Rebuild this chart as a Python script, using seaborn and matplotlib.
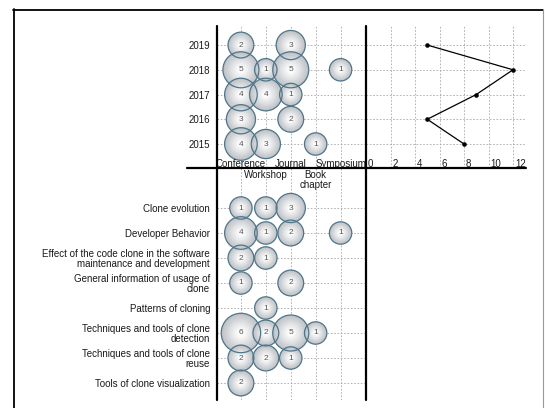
import numpy as np
import pandas as pd
import matplotlib.pyplot as plt
import seaborn as sns
from matplotlib.lines import Line2D
from matplotlib.colors import to_hex, LinearSegmentedColormap

# --- Data ---
TYPES = ['Conference', 'Workshop', 'Journal', 'Book chapter', 'Symposium']

YEARS = [2019, 2018, 2017, 2016, 2015]
year_conference = [2, 5, 4, 3, 4]
year_workshop = [0, 1, 4, 0, 3]
year_journal = [3, 5, 1, 2, 0]
year_book = [0, 0, 0, 0, 1]
year_symposium = [0, 1, 0, 0, 0]
papers_per_year = [5, 12, 9, 5, 8]
COUNT_TICKS = [0, 2, 4, 6, 8, 10, 12]

TOPICS = [
    'Clone evolution',
    'Developer Behavior',
    'Effect of the code clone in the software\nmaintenance and development',
    'General information of usage of\nclone',
    'Patterns of cloning',
    'Techniques and tools of clone\ndetection',
    'Techniques and tools of clone\nreuse',
    'Tools of clone visualization',
]
topic_conference = [1, 4, 2, 1, 0, 6, 2, 2]
topic_workshop = [1, 1, 1, 0, 1, 2, 2, 0]
topic_journal = [3, 2, 0, 2, 0, 5, 1, 0]
topic_book = [0, 0, 0, 0, 0, 1, 0, 0]
topic_symposium = [0, 1, 0, 0, 0, 0, 0, 0]

# --- Layout / style ---
W, H, DPI = 545, 408, 100
EDGE = '#4f7589'
GRID = dict(ls=(0, (2, 2)), color='#a8a8a8', lw=0.6)
TXT = '#1a1a1a'

sns.set_style('white')
plt.rcParams['font.family'] = ['Liberation Sans', 'DejaVu Sans']


def px_box(x0, y0, x1, y1):
    return [x0 / W, 1 - y1 / H, (x1 - x0) / W, (y1 - y0) / H]


def to_long(columns, rows):
    table = pd.DataFrame(dict(zip(TYPES, columns)))
    df = table.assign(row=rows).melt(id_vars='row', var_name='type', value_name='n')
    df = df[df['n'] > 0].copy()
    df['x'] = df['type'].map({t: i for i, t in enumerate(TYPES)})
    df['d'] = (19 + 3.4 * df['n']) * 72 / DPI   # bubble diameter in points
    return df.reset_index(drop=True)


def draw_bubbles(ax, df):
    # fake radial shading: stacked discs, grey rim to white core
    fracs = np.linspace(1.0, 0.2, 9)
    cmap = LinearSegmentedColormap.from_list('bub', ['#bfc3c7', '#fcfcfc'])
    shades = {k: to_hex(cmap(v)) for k, v in enumerate(np.linspace(0, 1, len(fracs)))}
    layers = pd.concat([df.assign(layer=k, s=(df['d'] * f) ** 2) for k, f in enumerate(fracs)])
    layers = layers.rename_axis('bid').reset_index().sort_values(['bid', 'layer'], kind='stable')
    sns.scatterplot(data=layers, x='x', y='row', hue='layer', palette=shades,
                    s=layers['s'].to_numpy(), linewidth=0, legend=False, ax=ax, zorder=2)
    sns.scatterplot(data=df, x='x', y='row', s=(df['d'] ** 2).to_numpy(),
                    facecolor='none', edgecolor=EDGE, linewidth=0.9,
                    legend=False, ax=ax, zorder=3)
    for r in df.itertuples():
        ax.text(r.x, r.row, str(r.n), ha='center', va='center',
                fontsize=6, color='#555555', zorder=4)
    ax.set_xlabel('')
    ax.set_ylabel('')


def clean(ax):
    for s in ax.spines.values():
        s.set_visible(False)
    ax.set_facecolor('none')
    ax.set_axisbelow(True)
    ax.grid(True, **GRID)


fig = plt.figure(figsize=(W / DPI, H / DPI), dpi=DPI)

ax_year = fig.add_axes(px_box(217, 26, 366, 168))
ax_line = fig.add_axes(px_box(366, 26, 526, 168))
ax_topic = fig.add_axes(px_box(217, 168, 366, 400))

# --- Top left: year x publication type ---
year_df = to_long([year_conference, year_workshop, year_journal, year_book, year_symposium], YEARS)
draw_bubbles(ax_year, year_df)
clean(ax_year)
ax_year.set_xlim(-0.96, 5.02)
ax_year.set_ylim(2014.03, 2019.77)
ax_year.set_xticks(range(len(TYPES)), [''] * len(TYPES))
ax_year.set_yticks(YEARS, [str(y) for y in YEARS], fontsize=7, color=TXT)
ax_year.tick_params(axis='x', length=0)
ax_year.tick_params(axis='y', length=3.5, width=0.6, color='#8a8a8a', pad=1.5)
for i, t in enumerate(TYPES):
    if i % 2 == 0:
        ax_year.annotate(t, xy=(i, 0), xycoords=('data', 'axes fraction'),
                         xytext=(0, 1.0), textcoords='offset points',
                         ha='center', va='baseline', fontsize=7, color=TXT,
                         annotation_clip=False)
    else:
        ax_year.annotate(t.replace(' ', '\n'), xy=(i, 0), xycoords=('data', 'axes fraction'),
                         xytext=(0, -1.2), textcoords='offset points',
                         ha='center', va='top', fontsize=7, color=TXT,
                         linespacing=1.0, annotation_clip=False)

# --- Top right: papers per year ---
sns.lineplot(x=papers_per_year, y=YEARS, sort=False, estimator=None, color='black',
             lw=0.9, marker='o', markersize=3.3, markeredgewidth=0, ax=ax_line)
clean(ax_line)
ax_line.set_xlim(0, 13.06)
ax_line.set_ylim(2014.03, 2019.77)
ax_line.set_xticks(COUNT_TICKS, [''] * len(COUNT_TICKS))
ax_line.set_yticks(YEARS, [''] * len(YEARS))
ax_line.tick_params(length=0)
for v in COUNT_TICKS:
    ax_line.annotate(str(v), xy=(v, 0), xycoords=('data', 'axes fraction'),
                     xytext=(1.5, 1.0), textcoords='offset points',
                     ha='left', va='baseline', fontsize=7, color=TXT,
                     annotation_clip=False)

# --- Bottom left: topic x publication type ---
topic_df = to_long([topic_conference, topic_workshop, topic_journal, topic_book, topic_symposium],
                   list(range(len(TOPICS))))
draw_bubbles(ax_topic, topic_df)
clean(ax_topic)
ax_topic.set_xlim(-0.96, 5.02)
ax_topic.set_ylim(7.68, -1.6)
ax_topic.set_xticks(range(len(TYPES)), [''] * len(TYPES))
ax_topic.set_yticks(range(len(TOPICS)), TOPICS, fontsize=7, color=TXT, linespacing=1.05)
ax_topic.tick_params(axis='x', length=0)
ax_topic.tick_params(axis='y', length=3.5, width=0.6, color='#8a8a8a', pad=1.5)


# --- Heavy axis cross and outer frame ---
def fig_line(x0, y0, x1, y1, **kw):
    fig.add_artist(Line2D([x0 / W, x1 / W], [1 - y0 / H, 1 - y1 / H],
                          transform=fig.transFigure, **kw))


fig_line(217, 26, 217, 400, color='black', lw=1.6)
fig_line(366, 26, 366, 400, color='black', lw=1.6)
fig_line(187, 168, 526, 168, color='black', lw=1.6)
fig_line(13.5, 9, 13.5, 410, color='black', lw=1.3)
fig_line(13, 9.5, 543, 9.5, color='black', lw=1.3)
fig_line(543, 9, 543, 410, color='#9a9a9a', lw=0.8)

fig.savefig('out.png', dpi=DPI)
plt.close(fig)
